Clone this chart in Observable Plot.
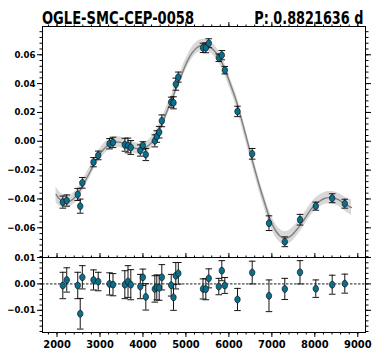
<!DOCTYPE html>
<html>
<head>
<meta charset="utf-8">
<script src="https://cdn.jsdelivr.net/npm/d3@7"></script>
<script src="https://cdn.jsdelivr.net/npm/@observablehq/plot@0.6"></script>
<style>
  html, body { margin: 0; padding: 0; background: white; }
  #chart { position: relative; width: 379px; height: 363px; overflow: hidden; }
  #chart svg { position: absolute; left: 0; background: transparent; }
  .ttl { position: absolute; top: 9.6px; font-family: 'DejaVu Sans', sans-serif; font-weight: bold;
         font-size: 17px; line-height: 17px; white-space: nowrap; color: black; z-index: 2; }
</style>
</head>
<body>
<div id="chart"></div>
<script>
// ---- data ----
const titleLeft = "OGLE-SMC-CEP-0058";
const titleRight = "P: 0.8821636 d";

const obsX = [2135,2226,2482,2540,2589,2849,2959,3222,3303,3578,3652,3717,3938,3997,4066,4276,4322,4378,4439,4657,4711,4764,4823,5397,5463,5532,5765,5835,5905,6200,6542,6933,7301,7655,8022,8404,8697];
const obsY = [-0.0422,-0.0411,-0.0369,-0.0450,-0.0288,-0.0145,-0.0098,-0.0017,-0.0008,-0.0024,-0.0029,-0.0043,-0.0064,-0.0029,-0.0092,0.0003,0.0033,0.0063,0.0142,0.0271,0.0267,0.0396,0.0445,0.0648,0.0648,0.0680,0.0579,0.0597,0.0493,0.0207,-0.0087,-0.0568,-0.0697,-0.0544,-0.0450,-0.0395,-0.0433];
const obsErr = [0.0042,0.0039,0.0042,0.0049,0.0037,0.0032,0.0030,0.0036,0.0036,0.0045,0.0051,0.0048,0.0039,0.0026,0.0042,0.0042,0.0040,0.0040,0.0041,0.0035,0.0042,0.0042,0.0035,0.0032,0.0034,0.0031,0.0026,0.0032,0.0026,0.0036,0.0037,0.0051,0.0034,0.0037,0.0028,0.0031,0.0031];
const resY = [-0.0006,0.0015,-0.0006,-0.0113,0.0025,0.0015,0.0009,0.0000,-0.0003,-0.0003,0.0009,-0.0003,-0.0010,0.0025,-0.0049,-0.0019,-0.0013,-0.0015,0.0025,-0.0005,-0.0051,0.0031,0.0040,-0.0019,-0.0020,0.0021,-0.0010,0.0050,-0.0006,-0.0059,0.0043,-0.0045,-0.0019,0.0044,-0.0018,-0.0003,0.0001];
const resErr = [0.0050,0.0046,0.0050,0.0058,0.0044,0.0038,0.0035,0.0042,0.0042,0.0053,0.0060,0.0057,0.0046,0.0031,0.0050,0.0050,0.0047,0.0047,0.0048,0.0041,0.0049,0.0050,0.0041,0.0038,0.0040,0.0036,0.0031,0.0038,0.0030,0.0042,0.0043,0.0060,0.0040,0.0044,0.0033,0.0036,0.0036];

const modelX = [1977,2035,2128,2221,2314,2407,2500,2593,2686,2780,2873,2966,3059,3152,3245,3338,3431,3524,3617,3710,3827,3943,4036,4129,4222,4315,4408,4501,4594,4688,4781,4874,4967,5060,5153,5246,5339,5432,5525,5618,5712,5805,5898,5991,6084,6177,6270,6363,6456,6549,6642,6735,6829,6922,7015,7108,7201,7294,7387,7480,7573,7666,7759,7852,7945,8039,8132,8225,8318,8411,8504,8597,8690,8783,8853];
const modelY = [-0.0369,-0.0393,-0.0414,-0.0421,-0.0413,-0.0392,-0.0357,-0.0310,-0.0258,-0.0206,-0.0149,-0.0103,-0.0064,-0.0036,-0.0015,-0.0006,-0.0006,-0.0012,-0.0026,-0.0038,-0.0049,-0.0054,-0.0049,-0.0029,-0.0001,0.0043,0.0096,0.0165,0.0234,0.0300,0.0377,0.0442,0.0512,0.0571,0.0616,0.0647,0.0664,0.0669,0.0661,0.0640,0.0609,0.0564,0.0505,0.0432,0.0356,0.0276,0.0179,0.0075,-0.0029,-0.0137,-0.0237,-0.0334,-0.0424,-0.0511,-0.0580,-0.0629,-0.0660,-0.0674,-0.0667,-0.0646,-0.0615,-0.0580,-0.0539,-0.0497,-0.0459,-0.0431,-0.0411,-0.0397,-0.0391,-0.0392,-0.0400,-0.0414,-0.0433,-0.0449,-0.0459];
const modelErr = [0.0055,0.0050,0.0046,0.0043,0.0041,0.0040,0.0039,0.0039,0.0038,0.0038,0.0038,0.0038,0.0038,0.0038,0.0038,0.0038,0.0038,0.0038,0.0038,0.0038,0.0038,0.0038,0.0038,0.0038,0.0038,0.0038,0.0038,0.0038,0.0038,0.0038,0.0038,0.0038,0.0039,0.0040,0.0040,0.0040,0.0040,0.0040,0.0040,0.0040,0.0040,0.0040,0.0040,0.0040,0.0040,0.0041,0.0041,0.0041,0.0042,0.0042,0.0042,0.0043,0.0044,0.0045,0.0046,0.0046,0.0046,0.0046,0.0046,0.0046,0.0045,0.0044,0.0043,0.0042,0.0042,0.0042,0.0042,0.0042,0.0042,0.0043,0.0044,0.0046,0.0048,0.0051,0.0054];

const xMajor = [2000,3000,4000,5000,6000,7000,8000,9000];
const xMinor = d3.range(1800, 9001, 200);
const yMajorTop = [-0.06,-0.04,-0.02,0,0.02,0.04,0.06];
const yMinorTop = d3.range(-80, 77, 4).map(v => v / 1000);
const yMajorRes = [-0.01,0,0.01];
const yMinorRes = d3.range(-18, 11, 2).map(v => v / 1000);

// ---- tables ----
const obs = obsX.map((x, i) => ({x, y: obsY[i], e: obsErr[i], r: resY[i], re: resErr[i]}));
const model = modelX.map((x, i) => ({x, y: modelY[i], e: modelErr[i]}));
const capsTop = obs.flatMap(d => [{x: d.x, y: d.y - d.e}, {x: d.x, y: d.y + d.e}]);
const capsRes = obs.flatMap(d => [{x: d.x, y: d.r - d.re}, {x: d.x, y: d.r + d.re}]);

// ---- symbols ----
const ellipse = {
  draw(ctx) {
    const rx = 2.7, ry = 3.4, k = 0.5523;
    ctx.moveTo(rx, 0);
    ctx.bezierCurveTo(rx, ry * k, rx * k, ry, 0, ry);
    ctx.bezierCurveTo(-rx * k, ry, -rx, ry * k, -rx, 0);
    ctx.bezierCurveTo(-rx, -ry * k, -rx * k, -ry, 0, -ry);
    ctx.bezierCurveTo(rx * k, -ry, rx, -ry * k, rx, 0);
    ctx.closePath();
  }
};
const cap = { draw(ctx) { ctx.moveTo(-3.3, 0); ctx.lineTo(3.3, 0); } };

const xDomain = [1662, 9179];
const blank = () => "";
const fmt = d3.format(".2f");
const style = {fontFamily: "'DejaVu Sans Condensed', 'DejaVu Sans', sans-serif", fontStretch: "condensed", fontWeight: "bold", background: "transparent", color: "black"};
const dotColor = "#0a6f8c";
const barColor = "#151515";

function frameAxes(yMajor, yMinor, opts) {
  const marks = [
    Plot.axisY({anchor: "left", ticks: yMajor, tickSize: 5, tickPadding: 2, tickFormat: fmt, fontSize: 9.5, label: null}),
    Plot.axisY({anchor: "left", ticks: yMinor, tickSize: 2.5, tickFormat: blank, label: null}),
    Plot.axisY({anchor: "right", ticks: yMajor, tickSize: 5, tickFormat: blank, label: null}),
    Plot.axisY({anchor: "right", ticks: yMinor, tickSize: 2.5, tickFormat: blank, label: null}),
    Plot.axisX({anchor: "top", ticks: xMajor, tickSize: 5, tickFormat: blank, label: null}),
    Plot.axisX({anchor: "top", ticks: xMinor, tickSize: 2.5, tickFormat: blank, label: null})
  ];
  if (opts.bottomLabels) {
    marks.push(Plot.axisX({anchor: "bottom", ticks: xMajor, tickSize: 5, tickPadding: 3, tickFormat: d => String(d), fontSize: 11, label: null}));
    marks.push(Plot.axisX({anchor: "bottom", ticks: xMinor, tickSize: 2.5, tickFormat: blank, label: null}));
  }
  return marks;
}

const topPlot = Plot.plot({
  width: 379, height: 257,
  marginTop: 26, marginBottom: 0, marginLeft: 42, marginRight: 14,
  style,
  x: {domain: xDomain},
  y: {domain: [-0.0806, 0.0796]},
  marks: [
    Plot.areaY(model, {x: "x", y1: d => d.y - d.e, y2: d => d.y + d.e, curve: "catmull-rom", fill: "#d4d4d4", fillOpacity: 0.9}),
    Plot.line(model, {x: "x", y: "y", curve: "catmull-rom", stroke: "#808080", strokeWidth: 1.4}),
    Plot.ruleX(obs, {x: "x", y1: d => d.y - d.e, y2: d => d.y + d.e, stroke: barColor, strokeWidth: 1}),
    Plot.dot(capsTop, {x: "x", y: "y", symbol: cap, fill: "none", stroke: barColor, strokeWidth: 1}),
    Plot.dot(obs, {x: "x", y: "y", symbol: ellipse, fill: dotColor, stroke: "#111", strokeWidth: 0.7}),
    Plot.frame({stroke: "black", strokeWidth: 1}),
    ...frameAxes(yMajorTop, yMinorTop, {bottomLabels: false})
  ]
});

const bottomPlot = Plot.plot({
  width: 379, height: 112,
  marginTop: 6, marginBottom: 31, marginLeft: 42, marginRight: 14,
  style,
  x: {domain: xDomain},
  y: {domain: [-0.0184, 0.0100]},
  marks: [
    Plot.ruleY([0], {stroke: "black", strokeWidth: 0.9, strokeDasharray: "2.5,1.5"}),
    Plot.ruleX(obs, {x: "x", y1: d => d.r - d.re, y2: d => d.r + d.re, stroke: barColor, strokeWidth: 1}),
    Plot.dot(capsRes, {x: "x", y: "y", symbol: cap, fill: "none", stroke: barColor, strokeWidth: 1}),
    Plot.dot(obs, {x: "x", y: "r", symbol: ellipse, fill: dotColor, stroke: "#111", strokeWidth: 0.7}),
    Plot.frame({stroke: "black", strokeWidth: 1}),
    ...frameAxes(yMajorRes, yMinorRes, {bottomLabels: true})
  ]
});

topPlot.style.top = "0px";
bottomPlot.style.top = "251px";
const chart = document.getElementById("chart");
chart.appendChild(bottomPlot);
chart.appendChild(topPlot);

// titles above the upper panel, horizontally condensed to the reference widths
function addTitle(text, width, side, edge) {
  const el = document.createElement("div");
  el.className = "ttl";
  el.textContent = text;
  el.style[side] = edge + "px";
  chart.appendChild(el);
  const natural = el.getBoundingClientRect().width;
  el.style.transformOrigin = side === "left" ? "left top" : "right top";
  el.style.transform = `scaleX(${width / natural})`;
}
addTitle(titleLeft, 152, "left", 42);
addTitle(titleRight, 109, "right", 16);
</script>
</body>
</html>
